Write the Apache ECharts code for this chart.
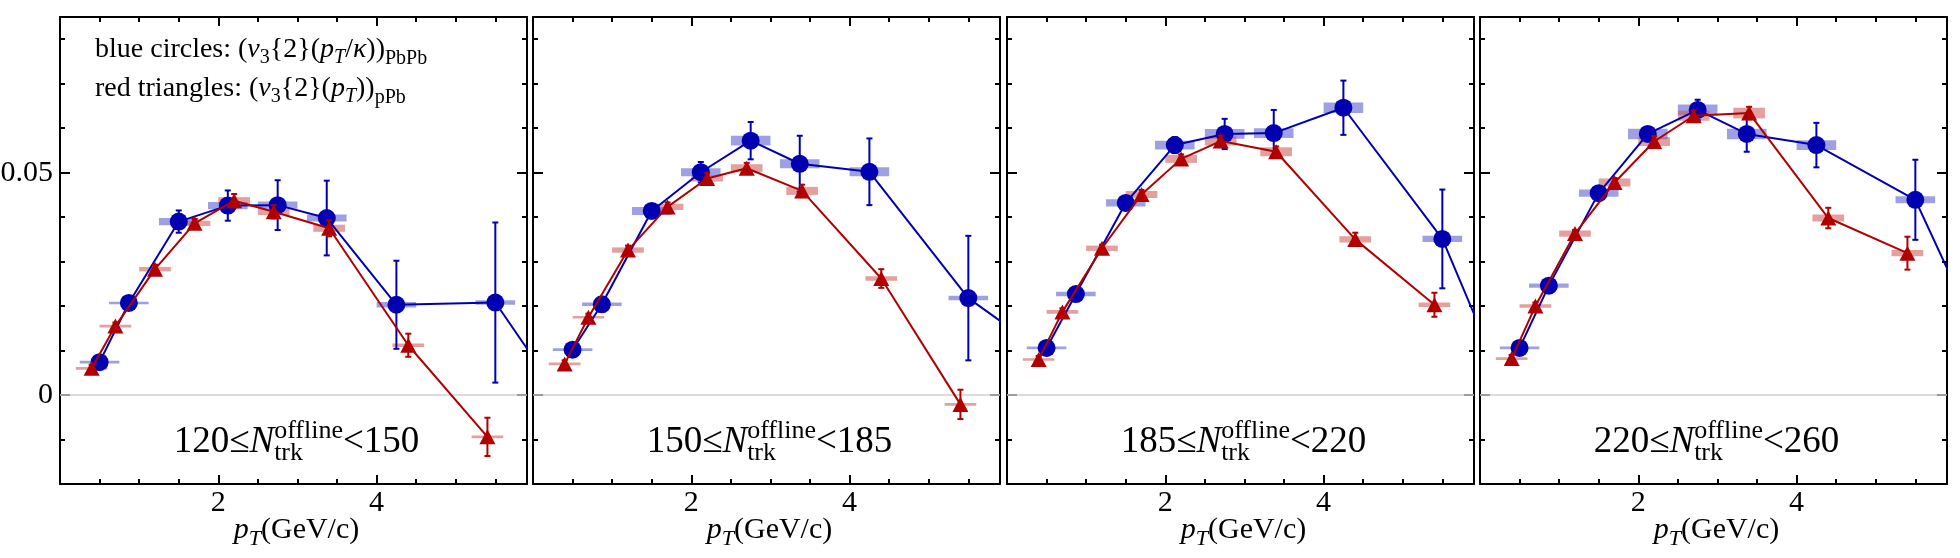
<!DOCTYPE html>
<html>
<head>
<meta charset="utf-8">
<title>v3{2}: PbPb vs pPb</title>
<script src="https://cdn.jsdelivr.net/npm/echarts@6.0.0/dist/echarts.min.js"></script>
<style>
  html, body { margin: 0; padding: 0; background: #fff; }
  #chart { width: 1960px; height: 558px; }
</style>
</head>
<body>
<div id="chart"></div>
<script>
// pT bin centres (GeV/c). blue ones are already divided by kappa
const bluePt = [0.5, 0.87, 1.5, 2.12, 2.75, 3.37, 4.25, 5.5];
const redPt = [0.4, 0.7, 1.2, 1.7, 2.2, 2.7, 3.4, 4.4, 5.4];
// next blue point sits outside the frame, only its segment shows
const blueTailPt = 6.5;

// multiplicity bins, one panel each
const multBins = [[120, 150], [150, 185], [185, 220], [220, 260]];

// (v3{2}(pT/kappa))_PbPb
const blueV3 = [
  [0.0074, 0.0207, 0.039, 0.0426, 0.0427, 0.0398, 0.0203, 0.0208],
  [0.0102, 0.0204, 0.0414, 0.0501, 0.0572, 0.052, 0.0502, 0.0218],
  [0.0106, 0.0227, 0.0432, 0.0562, 0.0587, 0.0589, 0.0646, 0.0351],
  [0.0106, 0.0246, 0.0454, 0.0587, 0.0641, 0.0587, 0.0562, 0.0439]
];
const blueTailV3 = [-0.005, 0.009, -0.007, 0.0055];
const blueStat = [
  [0.0008, 0.0008, 0.0025, 0.0034, 0.0056, 0.0084, 0.0099, 0.018],
  [0.0008, 0.001, 0.0012, 0.0023, 0.0042, 0.0063, 0.0075, 0.014],
  [0.0008, 0.0008, 0.0012, 0.0018, 0.0034, 0.0052, 0.0061, 0.0111],
  [0.0008, 0.0008, 0.001, 0.0015, 0.0023, 0.004, 0.005, 0.009]
];
const blueSys = [
  [0.0003, 0.0003, 0.0008, 0.0008, 0.0008, 0.0008, 0.0006, 0.0005],
  [0.0003, 0.0004, 0.0009, 0.0009, 0.0011, 0.001, 0.001, 0.0005],
  [0.0003, 0.0005, 0.0008, 0.001, 0.0011, 0.0011, 0.0012, 0.0007],
  [0.0003, 0.0005, 0.0008, 0.0012, 0.0012, 0.0012, 0.0011, 0.0008]
];

// (v3{2}(pT))_pPb
const redV3 = [
  [0.006, 0.0155, 0.0283, 0.0386, 0.0437, 0.0412, 0.0375, 0.0112, -0.0094],
  [0.007, 0.0175, 0.0326, 0.0423, 0.0487, 0.051, 0.0459, 0.0262, -0.0021],
  [0.008, 0.0187, 0.033, 0.0451, 0.0531, 0.0571, 0.0547, 0.035, 0.0203],
  [0.0082, 0.02, 0.0363, 0.0478, 0.057, 0.0628, 0.0634, 0.0398, 0.0319]
];
const redStat = [
  [0.0008, 0.0008, 0.001, 0.001, 0.0015, 0.0015, 0.0018, 0.0026, 0.0043],
  [0.0008, 0.0008, 0.001, 0.001, 0.0012, 0.0012, 0.0014, 0.0021, 0.0033],
  [0.0008, 0.0008, 0.0008, 0.001, 0.001, 0.0012, 0.0012, 0.0015, 0.0027],
  [0.0008, 0.0008, 0.0008, 0.001, 0.0012, 0.0012, 0.0014, 0.0023, 0.0037]
];
const redSys = [
  [0.0003, 0.0003, 0.0005, 0.0006, 0.0008, 0.0007, 0.0008, 0.0004, 0.0003],
  [0.0003, 0.0003, 0.0006, 0.0007, 0.0007, 0.0009, 0.0009, 0.0005, 0.0003],
  [0.0003, 0.0004, 0.0006, 0.0008, 0.0009, 0.001, 0.001, 0.0007, 0.0005],
  [0.0003, 0.0004, 0.0007, 0.0009, 0.001, 0.0011, 0.0012, 0.0008, 0.0007]
];

// half width of the systematic boxes along pT
const BLUE_BOX_HALF = 0.25;
const RED_BOX_HALF = 0.2;

const BLUE = '#0000b0';
const RED = '#b00000';
const BLUE_SYS = 'rgba(80, 80, 205, 0.55)';
const RED_SYS = 'rgba(205, 80, 80, 0.55)';
const FONT = '"Liberation Serif", "Times New Roman", serif';

const GRID_LEFT = [60, 533, 1007, 1480];
const GRID_TOP = 17;
const GRID_W = 467;
const GRID_H = 467;

const chart = echarts.init(document.getElementById('chart'));

// ---- text helpers (sub/superscripts laid out by hand) ----
const ctx = document.createElement('canvas').getContext('2d');
function fontOf(p) {
  return (p.italic ? 'italic ' : '') + p.size + 'px ' + FONT;
}
function widthOf(p) {
  ctx.font = fontOf(p);
  return ctx.measureText(p.t).width;
}
// zrender draws text with textBaseline 'middle'; offset down to the baseline
function midToBase(p) {
  ctx.font = fontOf(p);
  ctx.textBaseline = 'middle';
  const d = ctx.measureText('H').actualBoundingBoxDescent;
  ctx.textBaseline = 'alphabetic';
  return d;
}
function seg(t, size, italic, dy) {
  return { t: t, size: size, italic: !!italic, dy: dy || 0 };
}
function mathText(pieces, x, baseline, centred) {
  const widths = pieces.map(p => p.stack ? Math.max.apply(null, p.stack.map(widthOf)) : widthOf(p));
  const total = widths.reduce((a, b) => a + b, 0);
  let cx = centred ? x - total / 2 : x;
  const out = [];
  pieces.forEach((p, k) => {
    (p.stack || [p]).forEach(q => {
      out.push({
        type: 'text',
        x: cx,
        y: baseline + q.dy - midToBase(q),
        silent: true,
        style: {
          text: q.t, font: fontOf(q), fill: '#000',
          align: 'left', verticalAlign: 'middle',
          textAlign: 'left', textVerticalAlign: 'middle'
        }
      });
    });
    cx += widths[k];
  });
  return out;
}

// ---- series renderers ----
function boxRenderer(half, fill) {
  return function (params, api) {
    const x = api.value(0), y = api.value(1), s = api.value(2);
    const a = api.coord([x - half, y + s]);
    const b = api.coord([x + half, y - s]);
    const h = Math.max(b[1] - a[1], 2.6);
    return {
      type: 'rect',
      shape: { x: a[0], y: (a[1] + b[1]) / 2 - h / 2, width: b[0] - a[0], height: h },
      style: { fill: fill }
    };
  };
}
function errRenderer(color) {
  return function (params, api) {
    const x = api.value(0), y = api.value(1), e = api.value(2);
    const top = api.coord([x, y + e]);
    const bot = api.coord([x, y - e]);
    const cap = 3;
    const st = { stroke: color, lineWidth: 2 };
    return {
      type: 'group',
      children: [
        { type: 'line', shape: { x1: top[0], y1: top[1], x2: bot[0], y2: bot[1] }, style: st },
        { type: 'line', shape: { x1: top[0] - cap, y1: top[1], x2: top[0] + cap, y2: top[1] }, style: st },
        { type: 'line', shape: { x1: bot[0] - cap, y1: bot[1], x2: bot[0] + cap, y2: bot[1] }, style: st }
      ]
    };
  };
}

const grids = [];
const xAxes = [];
const yAxes = [];
const series = [];
const texts = [];

const tickStyle = { color: '#000', width: 2 };
const frameLine = { show: true, onZero: false, lineStyle: { color: '#000', width: 2 } };
const noLine = { show: false, onZero: false };
const labelStyle = { fontFamily: FONT, fontSize: 30, color: '#000' };

multBins.forEach((bin, i) => {
  grids.push({
    left: GRID_LEFT[i], top: GRID_TOP, width: GRID_W, height: GRID_H,
    outerBoundsMode: 'none'
  });

  // 4 x axes per grid: bottom major/minor, top major/minor
  const xBase = { type: 'value', gridIndex: i, min: 0, max: 5.9, splitLine: { show: false } };
  xAxes.push(
    Object.assign({}, xBase, {
      position: 'bottom', interval: 2, axisLine: frameLine,
      axisTick: { inside: true, length: 9, lineStyle: tickStyle },
      axisLabel: Object.assign({ margin: 4, formatter: v => (Math.abs(v - 2) < 1e-9 || Math.abs(v - 4) < 1e-9) ? String(Math.round(v)) : '' }, labelStyle)
    }),
    Object.assign({}, xBase, {
      position: 'bottom', interval: 0.5, axisLine: noLine,
      axisTick: { inside: true, length: 5, lineStyle: tickStyle }, axisLabel: { show: false }
    }),
    Object.assign({}, xBase, {
      position: 'top', interval: 2, axisLine: frameLine,
      axisTick: { inside: true, length: 9, lineStyle: tickStyle }, axisLabel: { show: false }
    }),
    Object.assign({}, xBase, {
      position: 'top', interval: 0.5, axisLine: noLine,
      axisTick: { inside: true, length: 5, lineStyle: tickStyle }, axisLabel: { show: false }
    })
  );

  // 4 y axes per grid: left major/minor, right major/minor
  const yBase = { type: 'value', gridIndex: i, min: -0.02, max: 0.085, splitLine: { show: false } };
  yAxes.push(
    Object.assign({}, yBase, {
      position: 'left', splitNumber: 2, axisLine: frameLine,
      axisTick: { inside: true, length: 10, lineStyle: tickStyle },
      axisLabel: Object.assign({
        show: i === 0, margin: 7,
        formatter: v => Math.abs(v) < 1e-9 ? '0' : (Math.abs(v - 0.05) < 1e-9 ? '0.05' : '')
      }, labelStyle)
    }),
    Object.assign({}, yBase, {
      position: 'left', interval: 0.01, axisLine: noLine,
      axisTick: { inside: true, length: 5, lineStyle: tickStyle }, axisLabel: { show: false }
    }),
    Object.assign({}, yBase, {
      position: 'right', splitNumber: 2, axisLine: frameLine,
      axisTick: { inside: true, length: 10, lineStyle: tickStyle }, axisLabel: { show: false }
    }),
    Object.assign({}, yBase, {
      position: 'right', interval: 0.01, axisLine: noLine,
      axisTick: { inside: true, length: 5, lineStyle: tickStyle }, axisLabel: { show: false }
    })
  );

  const ax = { xAxisIndex: 4 * i, yAxisIndex: 4 * i, silent: true, animation: false };

  // systematic boxes
  series.push(Object.assign({
    type: 'custom', name: 'PbPb sys', z: 1,
    data: bluePt.map((x, k) => [x, blueV3[i][k], blueSys[i][k]]),
    renderItem: boxRenderer(BLUE_BOX_HALF, BLUE_SYS),
    markLine: {
      silent: true, symbol: 'none', label: { show: false },
      lineStyle: { color: '#d0d0d0', width: 1.5, type: 'solid' },
      data: [{ yAxis: 0 }]
    }
  }, ax));
  series.push(Object.assign({
    type: 'custom', name: 'pPb sys', z: 1,
    data: redPt.map((x, k) => [x, redV3[i][k], redSys[i][k]]),
    renderItem: boxRenderer(RED_BOX_HALF, RED_SYS)
  }, ax));

  // blue: PbPb, scaled pT
  series.push(Object.assign({
    type: 'custom', name: 'PbPb stat', z: 3,
    data: bluePt.map((x, k) => [x, blueV3[i][k], blueStat[i][k]]),
    renderItem: errRenderer(BLUE)
  }, ax));
  series.push(Object.assign({
    type: 'line', name: 'PbPb', z: 4, clip: true,
    data: bluePt.map((x, k) => [x, blueV3[i][k]]).concat([[blueTailPt, blueTailV3[i]]]),
    symbol: 'circle', symbolSize: 18, showAllSymbol: true,
    itemStyle: { color: BLUE }, lineStyle: { color: BLUE, width: 2 }
  }, ax));

  // red: pPb
  series.push(Object.assign({
    type: 'custom', name: 'pPb stat', z: 5,
    data: redPt.map((x, k) => [x, redV3[i][k], redStat[i][k]]),
    renderItem: errRenderer(RED)
  }, ax));
  series.push(Object.assign({
    type: 'line', name: 'pPb', z: 6, clip: true,
    data: redPt.map((x, k) => [x, redV3[i][k]]),
    symbol: 'triangle', symbolSize: [16, 15], showAllSymbol: true,
    itemStyle: { color: RED }, lineStyle: { color: RED, width: 2 }
  }, ax));

  const centre = GRID_LEFT[i] + GRID_W / 2 + 3;
  // multiplicity label
  texts.push.apply(texts, mathText([
    seg(bin[0] + '≤', 37),
    seg('N', 37, true),
    { stack: [seg('offline', 26, false, -14), seg('trk', 26, false, 8)] },
    seg('<' + bin[1], 37)
  ], centre, 452, true));
  // x axis title
  texts.push.apply(texts, mathText([
    seg('p', 30, true), seg('T', 22, true, 7), seg('(GeV/c)', 30)
  ], centre, 538, true));
});

// legend note in the first panel
texts.push.apply(texts, mathText([
  seg('blue circles: (', 28), seg('v', 28, true), seg('3', 20, false, 6), seg('{2}(', 28),
  seg('p', 28, true), seg('T', 20, true, 6), seg('/', 28), seg('κ', 28, true), seg('))', 28),
  seg('PbPb', 20, false, 7)
], 95, 57, false));
texts.push.apply(texts, mathText([
  seg('red triangles: (', 28), seg('v', 28, true), seg('3', 20, false, 6), seg('{2}(', 28),
  seg('p', 28, true), seg('T', 20, true, 6), seg('))', 28), seg('pPb', 20, false, 7)
], 95, 96, false));

chart.setOption({
  animation: false,
  backgroundColor: '#fff',
  grid: grids,
  xAxis: xAxes,
  yAxis: yAxes,
  series: series,
  graphic: { elements: texts }
});
</script>
</body>
</html>
